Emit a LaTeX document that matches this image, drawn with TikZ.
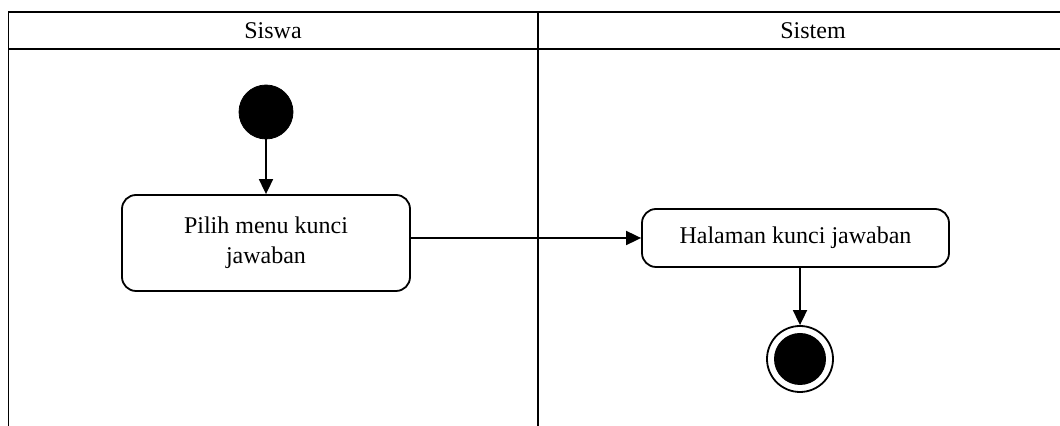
\documentclass[tikz,border=0pt]{standalone}
\usepackage{fontspec}
\setmainfont{Liberation Serif}
\usetikzlibrary{arrows.meta,positioning}
\tikzset{lane/.style={line width=0.85pt},act/.style={draw,rectangle,rounded corners=7pt,line width=0.9pt,align=center,inner sep=2pt},ini/.style={draw,circle,fill=black,minimum size=27pt,inner sep=0pt},fin/.style={draw,circle,minimum size=33pt,inner sep=0pt,line width=0.9pt},arr/.style={-{Triangle[length=7.5pt,width=7pt]},line width=0.9pt}}

\begin{document}
\begin{tikzpicture}[x=0.5pt,y=-0.5pt,font=\fontsize{12}{15}\selectfont]
\useasboundingbox(0,0)rectangle(1060,426);
% swimlanes
\draw[lane](1060,12)--(8.5,12)--(8.5,426);\draw[lane](8.5,49)--(1060,49);\draw[lane](538,12)--(538,426);
\node(hsiswa)at(273,30.5){Siswa};\node(hsistem)at(813,30.5){Sistem};
% aktivitas
\node[ini](start)at(266,112){};
\node[act,minimum width=144pt,minimum height=48pt](pilih)at(266,243){Pilih menu kunci\\jawaban};
\node[act,minimum width=153.5pt,minimum height=29pt](halaman)at(795.5,238){Halaman kunci jawaban};
\node[fin](end)at(800,359){};\node[ini,minimum size=26pt,draw=none](endin)at(end){};
\draw[arr](start)--(pilih);
\draw[arr](halaman.west-|pilih.east)--(halaman.west);
\draw[arr](halaman.south-|end)--(end);
\end{tikzpicture}
\end{document}
